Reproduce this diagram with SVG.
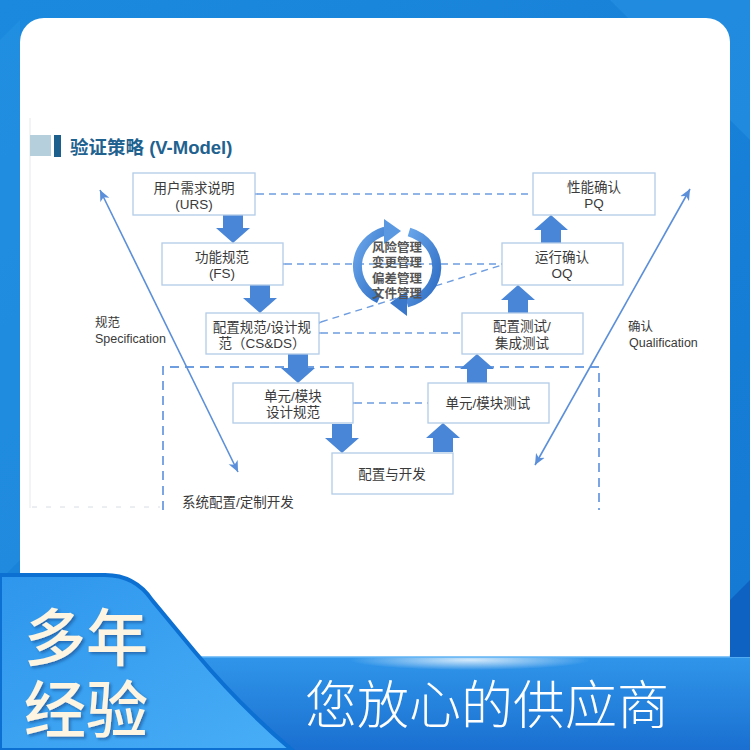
<svg xmlns="http://www.w3.org/2000/svg" width="750" height="750" viewBox="0 0 750 750">
<defs>
<style>
.box{fill:#fff;stroke:#b3cbe9;stroke-width:1.3}
.t{font-family:"Liberation Sans","Noto Sans CJK SC",sans-serif;font-size:13.5px;fill:#3a3a3a;text-anchor:middle}
.lbl{font-family:"Liberation Sans","Noto Sans CJK SC",sans-serif;font-size:12.5px;fill:#3a3a3a}
.dash{fill:none;stroke:#6e9de0;stroke-width:1.4;stroke-dasharray:7 5}
.solid{fill:none;stroke:#5b8fd9;stroke-width:1.6}
.blk{fill:#4a86d8}
.ring{fill:none;stroke:url(#rg);stroke-width:9}
.big{font-family:"Liberation Sans","Noto Sans CJK SC",sans-serif;font-weight:500;fill:#fdf5e2;font-size:62px}
</style>
<linearGradient id="bg" x1="0" y1="0" x2="1" y2="1">
<stop offset="0" stop-color="#1b8ade"/>
<stop offset="1" stop-color="#1478d2"/>
</linearGradient>
<linearGradient id="ban" x1="0" y1="0" x2="0" y2="1">
<stop offset="0" stop-color="#3096ea"/>
<stop offset="1" stop-color="#1a6fd0"/>
</linearGradient>
<radialGradient id="glow" cx="0.5" cy="0.5" r="0.5">
<stop offset="0" stop-color="#ffffff" stop-opacity="0.8"/>
<stop offset="1" stop-color="#ffffff" stop-opacity="0"/>
</radialGradient>
<linearGradient id="tab" x1="0" y1="0" x2="1" y2="1">
<stop offset="0" stop-color="#2e96ec"/>
<stop offset="1" stop-color="#48aef7"/>
</linearGradient>
<linearGradient id="rg" x1="0" y1="0" x2="1" y2="1">
<stop offset="0" stop-color="#6aa6ea"/>
<stop offset="1" stop-color="#2d6cc4"/>
</linearGradient>
<marker id="ma" markerWidth="8" markerHeight="8" refX="1" refY="4" orient="auto-start-reverse" markerUnits="userSpaceOnUse">
<path d="M0,4 L8,0.5 L8,7.5 Z" fill="#6e9de0"/>
</marker>
<marker id="ms" markerWidth="12" markerHeight="12" refX="11" refY="6" orient="auto-start-reverse" markerUnits="userSpaceOnUse">
<path d="M0,1 L11,6 L0,11 L3,6 Z" fill="#5b8fd9"/>
</marker>
<path id="dn" d="M-10,-29 H10 V-15 H17 L0,0 L-17,-15 H-10 Z"/>
<filter id="sh" x="-10%" y="-10%" width="130%" height="130%">
<feDropShadow dx="2" dy="2" stdDeviation="1.5" flood-color="#0a3f80" flood-opacity="0.55"/>
</filter>
</defs>

<!-- background -->
<rect x="0" y="0" width="750" height="750" fill="url(#bg)"/>
<polygon points="610,0 750,0 750,140 " fill="#2a95e6" opacity="0.5"/>
<polygon points="0,40 20,20 20,560 0,580" fill="#2a95e6" opacity="0.4"/>

<!-- card -->
<rect id="card" x="20" y="18" width="710" height="660" rx="24" fill="#ffffff"/>
<line x1="30" y1="118" x2="30" y2="508" stroke="#e4e8ec" stroke-width="1"/>
<line x1="32" y1="507" x2="160" y2="507" stroke="#d8dde2" stroke-width="1" stroke-dasharray="5 9"/>

<!-- title -->
<g id="title">
<rect x="30" y="135" width="21" height="21" fill="#b5cfdc"/>
<rect x="54" y="135" width="7" height="22" fill="#1c5e8c"/>
<text x="70" y="154" font-family="Liberation Sans,'Noto Sans CJK SC',sans-serif" font-size="18.5" font-weight="bold" fill="#1f628f">验证策略 (V-Model)</text>
</g>

<!-- connectors -->
<g id="connectors">
<path class="dash" d="M257,194 H533" marker-start="url(#ma)"/>
<path class="dash" d="M285,264 H502" marker-start="url(#ma)"/>
<path class="dash" d="M321,322 L502,265" marker-start="url(#ma)"/>
<path class="dash" d="M321,333 H462" marker-start="url(#ma)"/>
<path class="dash" d="M355,403 H428" marker-start="url(#ma)"/>
<path class="dash" style="stroke-width:1.8;stroke-dasharray:9 6" d="M163,510 V367 H599 V510"/>
<path class="solid" d="M100,190 L238,472" marker-start="url(#ms)" marker-end="url(#ms)"/>
<path class="solid" d="M690,189 L535,465" marker-start="url(#ms)" marker-end="url(#ms)"/>
<use href="#dn" class="blk" transform="translate(233,243)"/>
<use href="#dn" class="blk" transform="translate(260,313)"/>
<use href="#dn" class="blk" transform="translate(298,383)"/>
<use href="#dn" class="blk" transform="translate(342,453)"/>
<use href="#dn" class="blk" transform="translate(443,423) rotate(180)"/>
<use href="#dn" class="blk" transform="translate(477,354) rotate(180)"/>
<use href="#dn" class="blk" transform="translate(518,285) rotate(180)"/>
<use href="#dn" class="blk" transform="translate(551,215) rotate(180)"/>
</g>

<!-- nodes -->
<g id="urs"><rect class="box" x="133" y="173" width="122" height="42"/><text class="t" x="194" y="193">用户需求说明</text><text class="t" x="194" y="209">(URS)</text></g>
<g id="fs"><rect class="box" x="162" y="243" width="121" height="42"/><text class="t" x="222" y="262">功能规范</text><text class="t" x="222" y="278">(FS)</text></g>
<g id="csds"><rect class="box" x="206" y="313" width="113" height="41"/><text class="t" x="262" y="332">配置规范/设计规</text><text class="t" x="262" y="348">范（CS&amp;DS）</text></g>
<g id="pq"><rect class="box" x="533" y="173" width="122" height="42"/><text class="t" x="594" y="192">性能确认</text><text class="t" x="594" y="208">PQ</text></g>
<g id="oq"><rect class="box" x="502" y="243" width="121" height="42"/><text class="t" x="562" y="262">运行确认</text><text class="t" x="562" y="278">OQ</text></g>
<g id="cfgtest"><rect class="box" x="462" y="313" width="121" height="41"/><text class="t" x="522" y="331">配置测试/</text><text class="t" x="522" y="348">集成测试</text></g>
<g id="unitdesign"><rect class="box" x="233" y="383" width="120" height="40"/><text class="t" x="293" y="401">单元/模块</text><text class="t" x="293" y="417">设计规范</text></g>
<g id="unittest"><rect class="box" x="428" y="383" width="121" height="40"/><text class="t" x="488" y="408">单元/模块测试</text></g>
<g id="dev"><rect class="box" x="332" y="453" width="121" height="41"/><text class="t" x="392" y="479">配置与开发</text></g>

<g id="cycle">
<path class="ring" d="M379,299 A40 37 0 0 1 385,231"/>
<path d="M384,219 L401,231 L384,244 Z" fill="#5a98e2"/>
<path class="ring" d="M409,232 A40 37 0 0 1 407,303"/>
<path d="M407,291 L390,303 L407,316 Z" fill="#3a78cc"/>
<g class="t" style="font-size:12.5px;font-weight:bold;fill:#555">
<text x="397" y="252">风险管理</text>
<text x="397" y="267">变更管理</text>
<text x="397" y="283">偏差管理</text>
<text x="397" y="298">文件管理</text>
</g>
</g>

<g id="labels">
<text class="lbl" x="95" y="327">规范</text>
<text class="lbl" x="95" y="343">Specification</text>
<text class="lbl" x="628" y="331">确认</text>
<text class="lbl" x="629" y="347">Qualification</text>
<text class="lbl" x="182" y="507" style="font-size:13.5px">系统配置/定制开发</text>
</g>

<!-- banner -->
<g id="banner">
<rect x="0" y="657" width="750" height="93" fill="url(#ban)"/>
<ellipse cx="470" cy="660" rx="120" ry="10" fill="url(#glow)"/>
<line x1="200" y1="657" x2="750" y2="657" stroke="#5fb3f5" stroke-width="1.5"/>
<polygon points="730,600 750,580 750,657 730,657" fill="#0e62c2"/>
<path d="M0,575 L105,575 Q135,575 152,600 L195,652 Q240,706 292,750 L0,750 Z" fill="url(#tab)" stroke="#0c6fd2" stroke-width="4"/>
<text class="big" x="24" y="661" filter="url(#sh)">多年</text>
<text class="big" x="24" y="733" filter="url(#sh)">经验</text>
<text x="305" y="724" font-family="'Noto Sans CJK SC',sans-serif" font-size="52" font-weight="300" fill="#ffffff">您放心的供应商</text>
</g>
</svg>
